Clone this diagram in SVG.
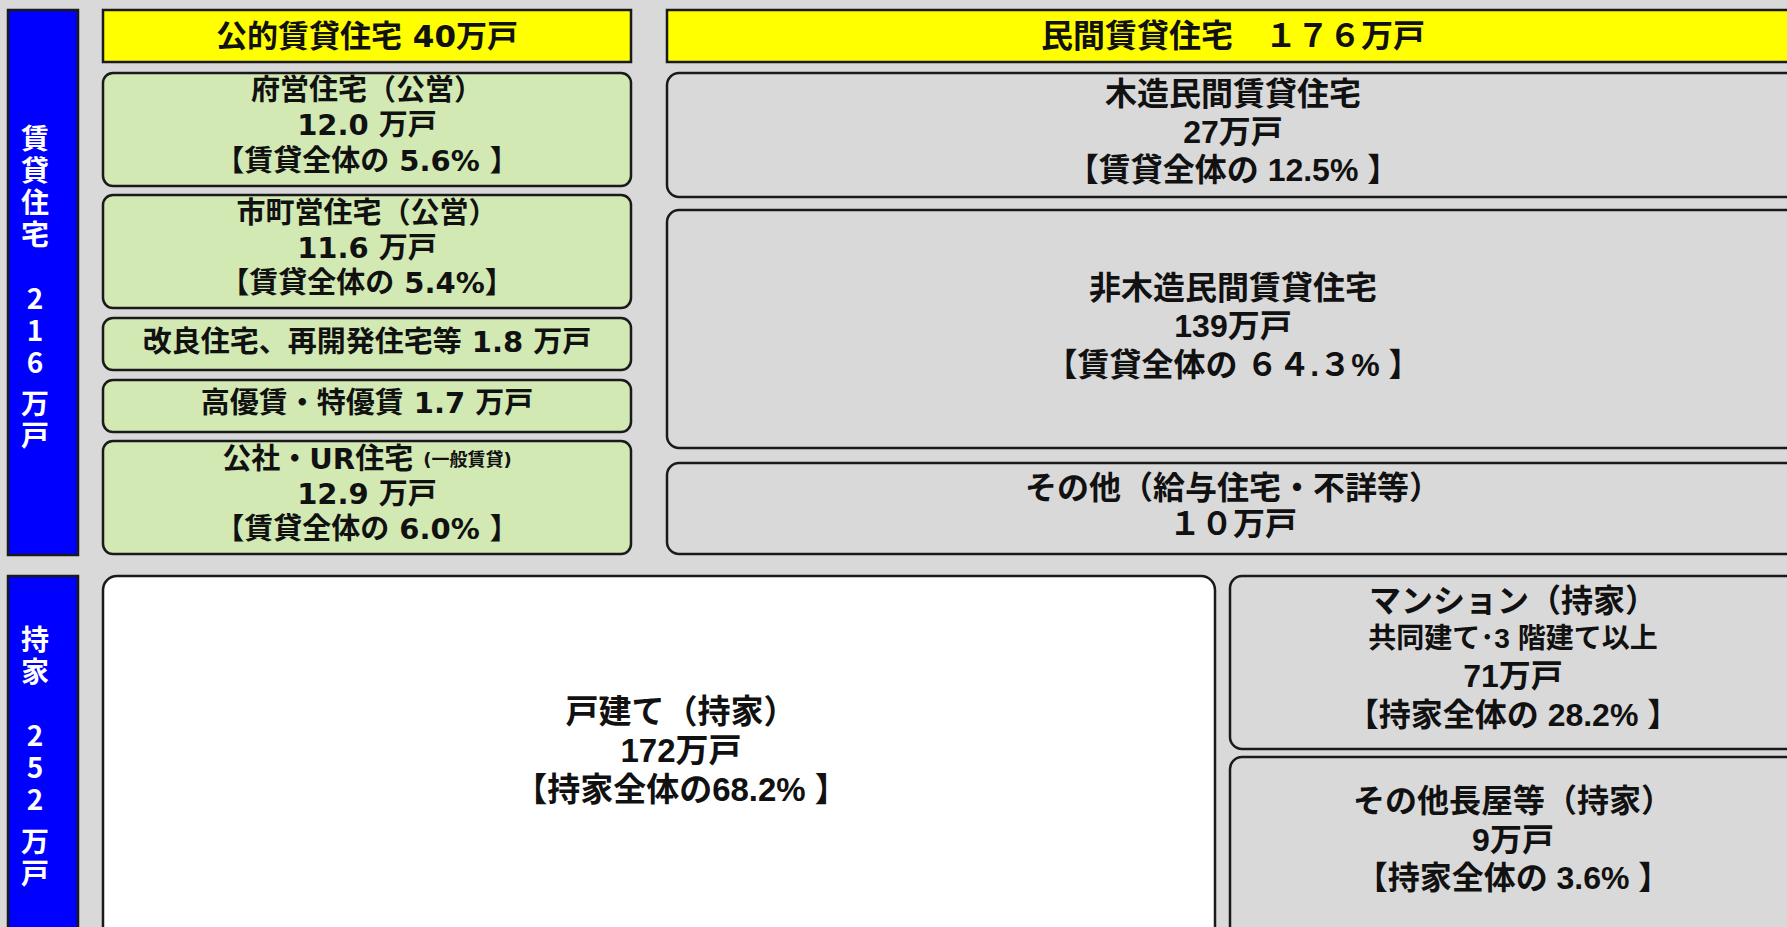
<svg xmlns="http://www.w3.org/2000/svg" width="1787" height="927" viewBox="0 0 1787 927">
<style>
text{font-family:"Liberation Sans","Noto Sans CJK JP",sans-serif;font-weight:bold;fill:#111;text-anchor:middle;dominant-baseline:central}
.side{fill:#0000ff;stroke:#1a1a1a;stroke-width:2.5}
.st{font-family:"Noto Sans CJK JP",sans-serif;fill:#fff;font-size:28px;writing-mode:vertical-rl;text-orientation:upright;letter-spacing:4px;text-anchor:start}
.hdr{fill:#ffff00;stroke:#1a1a1a;stroke-width:2.5}
.grn{fill:#d2e9b3;stroke:#1a1a1a;stroke-width:2.5}
.gry{fill:#d9d9d9;stroke:#1a1a1a;stroke-width:2.5}
.wht{fill:#ffffff;stroke:#1a1a1a;stroke-width:2.5}
.l{font-family:"DejaVu Sans","Noto Sans CJK JP",sans-serif;font-size:29px}
.h{font-family:"DejaVu Sans","Noto Sans CJK JP",sans-serif;font-size:31px}
.r{font-size:32px}
.b{font-size:33px}
.m{font-size:32px}
.sm{font-size:28px}
.s{font-size:18px}
</style>
<rect width="1787" height="927" fill="#d9d9d9"/>
<g id="connectors"/>
<g id="rental-side">
<rect class="side" x="8" y="10" width="70" height="545"/>
<text class="st" x="35" y="124">賃貸住宅　216</text>
<text class="st" x="35" y="389">万戸</text>
</g>
<g id="owned-side">
<rect class="side" x="8" y="576" width="70" height="360"/>
<text class="st" x="35" y="625">持家　252</text>
<text class="st" x="35" y="827">万戸</text>
</g>
<g id="public-header">
<rect class="hdr" x="103" y="10" width="528" height="52"/>
<text class="h" x="367" y="36">公的賃貸住宅 40万戸</text>
</g>
<g id="private-header">
<rect class="hdr" x="667" y="10" width="1140" height="52"/>
<text class="r" x="1233" y="36">民間賃貸住宅　１７６万戸</text>
</g>
<g id="fuei">
<rect class="grn" x="103" y="73" width="528" height="113" rx="10"/>
<text class="l"><tspan x="367" y="90">府営住宅（公営）</tspan><tspan x="367" y="125">12.0 万戸</tspan><tspan x="367" y="161">【賃貸全体の 5.6% 】</tspan></text>
</g>
<g id="shichou">
<rect class="grn" x="103" y="195" width="528" height="113" rx="10"/>
<text class="l"><tspan x="367" y="213">市町営住宅（公営）</tspan><tspan x="367" y="248">11.6 万戸</tspan><tspan x="367" y="283">【賃貸全体の 5.4%】</tspan></text>
</g>
<g id="kairyo">
<rect class="grn" x="103" y="318" width="528" height="52" rx="10"/>
<text class="l" x="367" y="342">改良住宅、再開発住宅等 1.8 万戸</text>
</g>
<g id="kouyuu">
<rect class="grn" x="103" y="380" width="528" height="52" rx="10"/>
<text class="l" x="367" y="403">高優賃・特優賃 1.7 万戸</text>
</g>
<g id="ur">
<rect class="grn" x="103" y="441" width="528" height="113" rx="10"/>
<text class="l"><tspan x="367" y="459">公社・UR住宅 <tspan class="s">(一般賃貸)</tspan></tspan><tspan x="367" y="494">12.9 万戸</tspan><tspan x="367" y="529">【賃貸全体の 6.0% 】</tspan></text>
</g>
<g id="mokuzou">
<rect class="gry" x="667" y="73" width="1140" height="124" rx="12"/>
<text class="r"><tspan x="1233" y="94">木造民間賃貸住宅</tspan><tspan x="1233" y="132">27万戸</tspan><tspan x="1233" y="170">【賃貸全体の 12.5% 】</tspan></text>
</g>
<g id="hi-mokuzou">
<rect class="gry" x="667" y="210" width="1140" height="238" rx="12"/>
<text class="r"><tspan x="1233" y="288">非木造民間賃貸住宅</tspan><tspan x="1233" y="326">139万戸</tspan><tspan x="1233" y="365">【賃貸全体の ６４.３% 】</tspan></text>
</g>
<g id="sonota-rental">
<rect class="gry" x="667" y="463" width="1140" height="91" rx="12"/>
<text class="r"><tspan x="1233" y="488">その他（給与住宅・不詳等）</tspan><tspan x="1233" y="524">１０万戸</tspan></text>
</g>
<g id="kodate">
<rect class="wht" x="103" y="576" width="1112" height="370" rx="14"/>
<text class="b"><tspan x="681" y="711">戸建て（持家）</tspan><tspan x="681" y="750">172万戸</tspan><tspan x="681" y="789">【持家全体の68.2% 】</tspan></text>
</g>
<g id="mansion">
<rect class="gry" x="1230" y="576" width="580" height="173" rx="12"/>
<text class="m"><tspan x="1513" y="601">マンション（持家）</tspan><tspan class="sm" x="1513" y="638">共同建て･3 階建て以上</tspan><tspan x="1513" y="676">71万戸</tspan><tspan x="1513" y="715">【持家全体の 28.2% 】</tspan></text>
</g>
<g id="nagaya">
<rect class="gry" x="1230" y="757" width="580" height="190" rx="12"/>
<text class="m"><tspan x="1513" y="801">その他長屋等（持家）</tspan><tspan x="1513" y="840">9万戸</tspan><tspan x="1513" y="878">【持家全体の 3.6% 】</tspan></text>
</g>
</svg>
